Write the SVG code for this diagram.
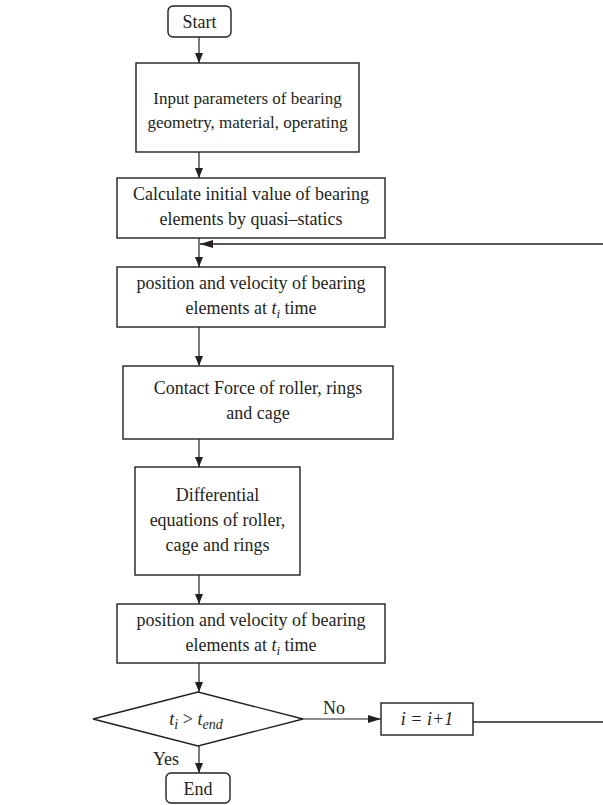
<svg xmlns="http://www.w3.org/2000/svg" width="603" height="805" viewBox="0 0 603 805">
<style>
.box{fill:#fff;stroke:#231f20;stroke-width:1.4}
.t{font-family:"Liberation Serif","Times New Roman",serif;font-size:18px;fill:#231f20;text-anchor:middle}
.s{font-size:17px}
.it{font-style:italic}
.c{fill:none;stroke:#231f20;stroke-width:1.2}
.loop{fill:none;stroke:#231f20;stroke-width:1.7}
</style>
<defs>
<marker id="ah" viewBox="0 0 10 8" refX="10" refY="4" markerWidth="10" markerHeight="8" markerUnits="userSpaceOnUse" orient="auto">
<path d="M0,0 L10,4 L0,8 Z" fill="#231f20"/>
</marker>
<marker id="ah2" viewBox="0 0 13 8" refX="13" refY="4" markerWidth="13" markerHeight="8" markerUnits="userSpaceOnUse" orient="auto">
<path d="M0,0 L13,4 L0,8 Z" fill="#231f20"/>
</marker>
</defs>
<rect width="603" height="805" fill="#fff"/>
<g id="connectors">
<line class="c" x1="199" y1="37" x2="199" y2="63" marker-end="url(#ah)"/>
<line class="c" x1="199" y1="152" x2="199" y2="178" marker-end="url(#ah)"/>
<line class="c" x1="199" y1="238" x2="199" y2="267" marker-end="url(#ah)"/>
<line class="c" x1="199" y1="327" x2="199" y2="366" marker-end="url(#ah)"/>
<line class="c" x1="199" y1="439" x2="199" y2="467" marker-end="url(#ah)"/>
<line class="c" x1="199" y1="575" x2="199" y2="604" marker-end="url(#ah)"/>
<line class="c" x1="199" y1="663" x2="199" y2="692" marker-end="url(#ah)"/>
<line class="c" x1="199" y1="746" x2="199" y2="773" marker-end="url(#ah)"/>
<line class="c" x1="303" y1="719" x2="381" y2="719" marker-end="url(#ah2)"/>
<path class="loop" d="M473,722 H607 V244 H200" marker-end="url(#ah2)"/>
<text class="t" x="334" y="714">No</text>
<text class="t" x="166" y="765">Yes</text>
</g>
<g id="start">
<rect class="box" x="168" y="6" width="63" height="31" rx="5"/>
<text class="t" x="199.5" y="28" font-size="19">Start</text>
</g>
<g id="input">
<rect class="box" x="136" y="63" width="223" height="89"/>
<text class="t s" x="247.5" y="104">Input parameters of bearing</text>
<text class="t s" x="247.5" y="128">geometry, material, operating</text>
</g>
<g id="initial">
<rect class="box" x="117" y="178" width="268" height="60"/>
<text class="t" x="251" y="200">Calculate initial value of bearing</text>
<text class="t" x="251" y="225">elements by quasi–statics</text>
</g>
<g id="position1">
<rect class="box" x="117" y="267" width="268" height="60"/>
<text class="t" x="251" y="289">position and velocity of bearing</text>
<text class="t" x="251" y="314">elements at <tspan class="it">t</tspan><tspan class="it" font-size="13" dy="4">i</tspan><tspan dy="-4"> time</tspan></text>
</g>
<g id="contact">
<rect class="box" x="123" y="366" width="270" height="73"/>
<text class="t" x="258" y="394">Contact Force of roller, rings</text>
<text class="t" x="258" y="419">and cage</text>
</g>
<g id="differential">
<rect class="box" x="135" y="467" width="165" height="108"/>
<text class="t" x="217.5" y="501">Differential</text>
<text class="t" x="217.5" y="526">equations of roller,</text>
<text class="t" x="217.5" y="551">cage and rings</text>
</g>
<g id="position2">
<rect class="box" x="117" y="604" width="268" height="59"/>
<text class="t" x="251" y="626">position and velocity of bearing</text>
<text class="t" x="251" y="651">elements at <tspan class="it">t</tspan><tspan class="it" font-size="13" dy="4">i</tspan><tspan dy="-4"> time</tspan></text>
</g>
<g id="decision">
<polygon class="box" points="93,719 198,692 303,719 198,746"/>
<text class="t" x="196" y="725" font-size="20"><tspan class="it">t</tspan><tspan class="it" font-size="14" dy="4">i</tspan><tspan dy="-4"> &gt; </tspan><tspan class="it">t</tspan><tspan class="it" font-size="14" dy="4">end</tspan></text>
</g>
<g id="increment">
<rect class="box" x="381" y="703" width="92" height="32"/>
<text class="t it" x="427" y="725" font-size="19">i = i+1</text>
</g>
<g id="end">
<rect class="box" x="166" y="773" width="64" height="30" rx="5"/>
<text class="t" x="198" y="795" font-size="19">End</text>
</g>
</svg>
